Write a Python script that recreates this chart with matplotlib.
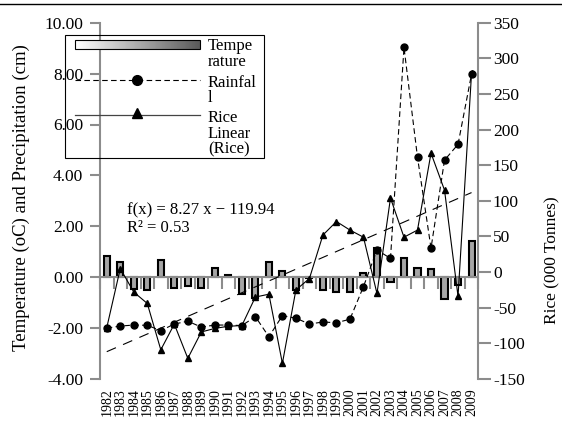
import numpy as np
import matplotlib
matplotlib.use('Agg')
import matplotlib.pyplot as plt
from matplotlib.patches import Rectangle
from matplotlib.colors import LinearSegmentedColormap

plt.rcParams['font.family'] = ['Liberation Serif', 'DejaVu Serif']

# data
years = ['1982', '1983', '1984', '1985', '1986', '1987', '1988', '1989', '1990',
         '1991', '1992', '1993', '1994', '1995', '1996', '1997', '1998', '1999',
         '2000', '2001', '2002', '2003', '2004', '2005', '2006', '2007', '2008',
         '2009']
temperature = [0.85, 0.58, -0.47, -0.50, 0.68, -0.44, -0.36, -0.44, 0.38, 0.07,
               -0.65, -0.82, 0.58, 0.25, -0.52, -0.04, -0.50, -0.57, -0.57, 0.17,
               1.16, -0.20, 0.77, 0.38, 0.31, -0.86, -0.30, 1.42]
rainfall = [-2.00, -1.92, -1.88, -1.89, -2.10, -1.84, -1.73, -1.96, -1.88, -1.88,
            -1.90, -1.55, -2.34, -1.51, -1.61, -1.84, -1.76, -1.79, -1.65, -0.37,
            1.07, 0.74, 9.03, 4.71, 1.14, 4.60, 5.22, 7.98]
rice = [-78, 5, -28, -44, -109, -73, -121, -84, -79, -76, -75, -35, -31, -128,
        -25, -9, 52, 71, 59, 49, -30, 104, 49, 59, 167, 115, -34, 279]
trend_slope = 8.27
trend_intercept = -119.94

W, H = 562, 430
gray = '#8c8c8c'


def box(x0, y0, x1, y1):
    ''' pixel box (origin top-left) -> figure fraction rect '''
    return [x0 / W, 1 - y1 / H, (x1 - x0) / W, (y1 - y0) / H]


fig = plt.figure(figsize=(W / 100, H / 100), dpi=100)
ax = fig.add_axes(box(100, 22.7, 478.3, 379))
ax2 = ax.twinx()
x = np.arange(len(years))

# temperature bars (left axis)
ax.bar(x, temperature, width=0.45, color='#a6a6a6', edgecolor='black',
       linewidth=1.5, zorder=3)
# rainfall (left axis)
ax.plot(x, rainfall, color='black', lw=0.8, ls=(0, (5, 3)), marker='o', ms=5,
        zorder=5)
# rice and its linear trend (right axis)
ax2.plot(x, rice, color='black', lw=0.8, marker='^', ms=5)
ax2.plot(x, trend_slope * (x + 1) + trend_intercept, color='black', lw=0.8,
         ls=(0, (9, 7)))

ax.set_xlim(-0.5, len(years) - 0.5)
ax.set_ylim(-4, 10)
ax2.set_ylim(-150, 350)
lt = np.arange(-4, 10.1, 2)
ax.set_yticks(lt, ['%.2f' % v for v in lt])
rt = np.arange(-150, 351, 50)
ax2.set_yticks(rt, [str(v) for v in rt])

for s in ['top', 'right']:
    ax.spines[s].set_visible(False)
for s in ['top', 'left', 'bottom']:
    ax2.spines[s].set_visible(False)
ax.spines['bottom'].set_position(('data', 0))
ax.spines['bottom'].set_zorder(4)
for sp in [ax.spines['left'], ax.spines['bottom'], ax2.spines['right']]:
    sp.set_color(gray)
    sp.set_linewidth(1.5)

ax.tick_params(axis='y', direction='out', length=7, width=1.5, color=gray,
               labelsize=12.5, pad=5)
ax2.tick_params(axis='y', direction='out', length=9, width=1.5, color=gray,
                labelsize=12.5, pad=1.5)
ax.set_xticks(x, years, rotation=90, fontsize=10)
ax.set_xticks(np.arange(-0.5, len(years), 1), minor=True)
ax.tick_params(axis='x', which='major', length=0, pad=80)
ax.tick_params(axis='x', which='minor', direction='out', length=8.6, width=1.5,
               color=gray)

# overlay in pixel coordinates for legend, equation and axis titles
ov = fig.add_axes([0, 0, 1, 1])
ov.set_xlim(0, W)
ov.set_ylim(H, 0)
ov.axis('off')
ov.patch.set_visible(False)

ov.plot([0, W], [4, 4], color='black', lw=1)

ov.add_patch(Rectangle((65, 35), 199, 123, fill=False, ec='black', lw=0.8))
grad = LinearSegmentedColormap.from_list('g', ['white', '#5a5a5a'])
ov.imshow(np.linspace(0, 1, 100).reshape(1, -1), cmap=grad,
          extent=(75, 200, 49, 40), aspect='auto')
ov.add_patch(Rectangle((75, 40), 125, 9, fill=False, ec='black', lw=0.8))
ov.plot([75, 200], [80, 80], color='black', lw=0.8, ls=(0, (5, 3)))
ov.plot([137], [80], marker='o', ms=7, color='black')
ov.plot([75, 200], [115, 115], color='#444444', lw=0.9)
ov.plot([137], [113], marker='^', ms=7, color='black')
ov.set_xlim(0, W)
ov.set_ylim(H, 0)

leg_lines = [('Tempe', 50), ('rature', 66), ('Rainfal', 87), ('l', 102),
             ('Rice', 122), ('Linear', 138), ('(Rice)', 153)]
for txt, yb in leg_lines:
    ov.text(208, yb, txt, fontsize=12, va='baseline', ha='left')

ov.text(127, 214, 'f(x) = 8.27 x \u2212 119.94', fontsize=12, va='baseline')
ov.text(127, 232, 'R\u00b2 = 0.53', fontsize=12, va='baseline')

ov.text(21, 198, 'Temperature (oC) and Precipitation (cm)', rotation=90,
        fontsize=13.5, ha='center', va='center')
ov.text(552, 260, 'Rice (000 Tonnes)', rotation=90, fontsize=12.5,
        ha='center', va='center')

fig.savefig('out.png', dpi=100)
